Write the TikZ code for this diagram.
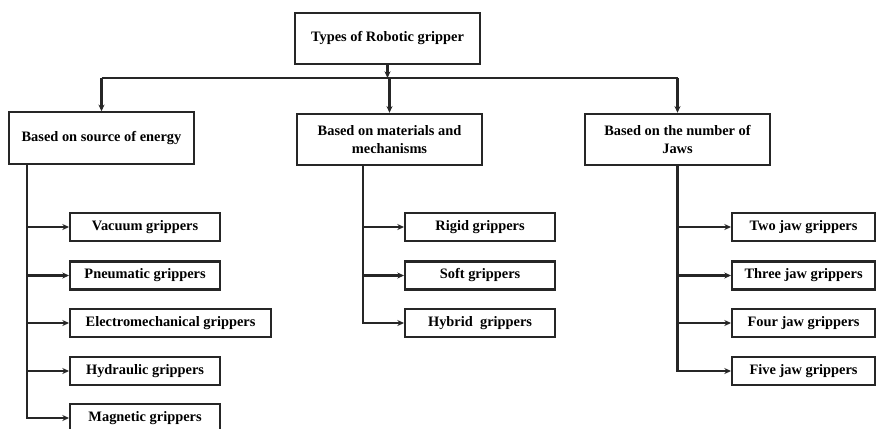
\documentclass[tikz,border=0pt]{standalone}
\usepackage{fontspec}
\setmainfont{Liberation Serif}
\usetikzlibrary{arrows.meta}

\begin{document}
\begin{tikzpicture}[x=0.75pt,y=-0.75pt,
  line width=1.6pt,draw=black!85,
  >={Stealth[length=5pt,width=4.5pt]},
  box/.style={draw,rectangle,align=center,inner sep=0pt,font=\fontsize{10.8}{13.5}\selectfont\bfseries},
  headbox/.style={box,minimum width=138.75pt,minimum height=38.5pt},
  leafbox/.style={box,anchor=west,minimum width=112.5pt,minimum height=21pt},
  jawbox/.style={leafbox,minimum width=107.25pt}]
  \useasboundingbox[fill=white] (0,0) rectangle (876,429);

  % top and second level
  \node[headbox] (root) at (387.5,38.5) {Types of Robotic gripper};
  \node[headbox] (energy) at (101.5,138) {Based on source of energy};
  \node[headbox] (mech) at (389.5,139.5) {Based on materials and\\mechanisms};
  \node[headbox] (jaws) at (677.5,139.5) {Based on the number of\\Jaws};

  \coordinate (bus) at (387.5,78);
  \draw[->] (root.south) -- (bus);
  \draw (energy.north |- bus) -- (jaws.north |- bus);
  \foreach \n in {energy,mech,jaws} \draw[->] (\n.north |- bus) -- (\n.north);

  % source of energy
  \node[leafbox] (vac) at (69,227) {Vacuum grippers};
  \node[leafbox] (pneu) at (69,275.5) {Pneumatic grippers};
  \node[leafbox,minimum width=150.75pt] (elec) at (69,323) {Electromechanical grippers};
  \node[leafbox] (hyd) at (69,371) {Hydraulic grippers};
  \node[leafbox] (mag) at (69,418) {Magnetic grippers};
  \coordinate (et) at (27,164);
  \draw[->] (et) |- (mag.west);
  \foreach \n in {vac,pneu,elec,hyd} \draw[->] (et |- \n.west) -- (\n.west);

  % materials and mechanisms
  \node[leafbox] (rigid) at (404,227) {Rigid grippers};
  \node[leafbox] (soft) at (404,275.5) {Soft grippers};
  \node[leafbox] (hyb) at (404,323) {Hybrid\ \ grippers};
  \coordinate (mt) at (363,166);
  \draw[->] (mt) |- (hyb.west);
  \foreach \n in {rigid,soft} \draw[->] (mt |- \n.west) -- (\n.west);

  % number of jaws
  \node[jawbox] (two) at (731,227) {Two jaw grippers};
  \node[jawbox] (three) at (731,275.5) {Three jaw grippers};
  \node[jawbox] (four) at (731,323) {Four jaw grippers};
  \node[jawbox] (five) at (731,371) {Five jaw grippers};
  \draw[->] (jaws.south) |- (five.west);
  \foreach \n in {two,three,four} \draw[->] (jaws.south |- \n.west) -- (\n.west);
\end{tikzpicture}
\end{document}
